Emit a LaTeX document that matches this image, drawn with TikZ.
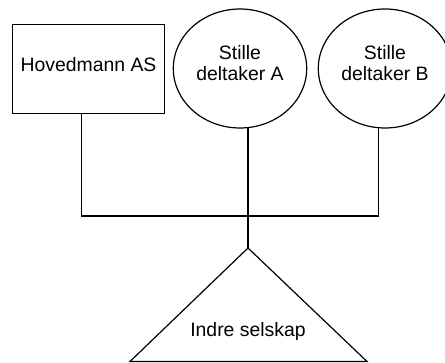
\documentclass[tikz,border=0pt]{standalone}
\usepackage{fontspec}
\setmainfont{Liberation Sans}
\usetikzlibrary{shapes.geometric}
\begin{document}
\begin{tikzpicture}[x=1pt,y=-1pt,
  lbl/.style={font=\fontsize{19.4}{21}\selectfont},
  box/.style={lbl, draw, line width=1.2pt, minimum width=151.6pt, minimum height=89pt, inner sep=0pt, text depth=8pt},
  party/.style={lbl, draw, ellipse, line width=1.2pt, minimum width=133.4pt, minimum height=119pt, inner sep=0pt, align=center},
  wire/.style={line width=1.2pt}]
\useasboundingbox (0,0) rectangle (445,363);
\node[box] (hm) at (88.5,68.7) {Hovedmann AS};
\node[party] (sdA) at (240,68.5) {Stille\\deltaker A\rule[-12pt]{0pt}{12pt}};
\node[party] (sdB) at (385,68.5) {Stille\\deltaker B\rule[-12pt]{0pt}{12pt}};
\coordinate (jL) at (81.7,216);
\coordinate (jM) at (248,216);
\coordinate (jR) at (378.3,216);
\coordinate (apex) at (248,248);
\coordinate (bR) at (367,361.5);
\coordinate (bL) at (130,361.5);
\draw[wire] (hm.south -| jL) -- (jL) -- (jR) -- ([yshift=1pt]jR |- sdB.south);
\draw[wire] ([yshift=1pt]jM |- sdA.south) -- (apex);
\draw[wire, line join=miter] (apex) -- (bR) -- (bL) -- cycle;
\node[lbl, anchor=base] (is) at (248,336.7) {Indre selskap};
\end{tikzpicture}
\end{document}
